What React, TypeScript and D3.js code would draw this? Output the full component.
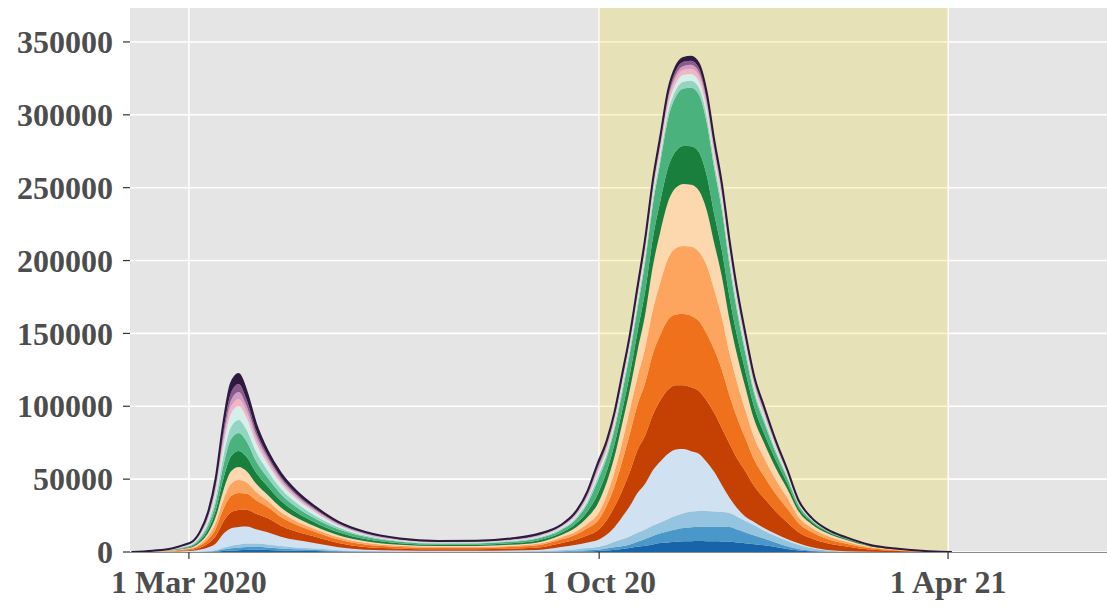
import React from "react";
import * as d3 from "d3";

const dates = [
  "2020-01-31","2020-02-11","2020-02-21","2020-02-27","2020-03-03","2020-03-07","2020-03-11","2020-03-15",
  "2020-03-19","2020-03-23","2020-03-27","2020-03-31","2020-04-05","2020-04-11","2020-04-18","2020-04-26",
  "2020-05-06","2020-05-18","2020-06-01","2020-06-19","2020-07-09","2020-07-29","2020-08-16","2020-08-30",
  "2020-09-11","2020-09-19","2020-09-25","2020-09-30","2020-10-05","2020-10-09","2020-10-13","2020-10-17",
  "2020-10-21","2020-10-25","2020-10-29","2020-11-02","2020-11-06","2020-11-10","2020-11-14","2020-11-18",
  "2020-11-22","2020-11-26","2020-11-30","2020-12-04","2020-12-08","2020-12-12","2020-12-16","2020-12-21",
  "2020-12-26","2021-01-01","2021-01-07","2021-01-13","2021-01-20","2021-01-28","2021-02-07","2021-02-19",
  "2021-03-06","2021-03-28","2021-04-03",
];

const sDarkBlue = [0,5,12,24,37,73,137,300,700,1050,1250,1450,1500,1390,1080,838,620,311,138,93,76,78,93,123,
  200,350,550,700,1100,1600,2100,2800,3600,4300,5200,6100,6600,7000,7300,7450,7500,7450,7350,7200,7000,6500,6000,5300,4600,3400,2100,1100,500,150,50,0,0,0,0];
const sMidBlue = [0,7,19,38,59,116,219,450,1000,1450,1700,1900,1900,1738,1350,1048,775,414,207,140,114,117,140,185,
  300,500,700,900,1300,1600,1900,2300,3500,4700,5800,6700,7700,8500,9100,9550,9800,9950,10050,10100,10100,9000,7600,6000,4600,3100,1900,1000,400,150,50,0,0,0,0];
const sLightBlue = [0,11,29,56,89,174,329,650,1300,1850,2150,2450,2350,2085,1620,1257,930,518,276,186,152,156,186,246,
  700,1050,1450,1900,2600,3800,4700,5600,6100,6500,7100,7500,8300,9300,10200,10800,10900,10700,10400,10100,9600,8700,7900,7000,5300,4500,3800,2900,1600,700,200,100,0,0,0];
const sPaleBlue = [0,81,216,423,666,1305,2466,4442,9446,11890,12100,11660,9826,8340,6480,5028,3720,2070,966,651,532,546,651,861,
  2300,3100,3800,4500,7000,10000,15300,20800,27300,31400,38000,42000,44900,45500,44000,41400,39300,33900,27200,18600,10600,5800,3000,2200,2000,1500,1200,1000,700,400,200,50,0,0,0];
const sDarkOrange = [0,90,240,470,740,1450,2740,5080,8446,11020,11600,11603,10736,9730,7560,5866,4340,2795,1794,1209,988,1014,1209,1599,
  2500,3500,5000,6500,10000,14000,18000,23500,29500,33000,38000,42000,44000,44200,43900,43800,43000,42000,40500,39000,37000,34000,31500,24500,20500,15500,11500,7600,6000,4600,3300,1550,700,50,0];
const sOrange = [0,90,240,470,740,1450,2740,5080,8534,11136,11700,11050,9240,7645,5940,4609,3410,2484,1794,1209,988,1014,1209,1599,
  2500,3500,5000,6500,10000,14000,20000,26000,31000,36000,42000,45000,48000,48500,48800,49000,48000,46000,43500,40000,33000,28000,23000,18000,15000,12000,9500,6200,4300,3000,1900,1000,400,40,0];
const sLightOrange = [0,72,192,376,592,1160,2192,4064,6490,8468,8900,7735,5720,4170,3240,2514,1860,1449,1104,744,608,624,744,984,
  1500,2000,3000,4500,7000,10000,13000,16500,19000,24000,30000,36000,42000,45500,46700,47500,47500,47000,41000,36000,29000,24000,19500,15000,12500,10000,7500,4300,3000,2000,1300,700,300,30,0];
const sPeach = [0,72,192,376,592,1160,2192,4064,6490,8468,8900,7735,5720,4170,3240,2514,1860,1449,1104,744,608,624,744,984,
  1500,3000,4500,7000,9000,10500,13000,14000,18000,23000,30000,35000,39000,41500,42600,42500,42000,38000,32000,28000,23000,19000,16000,12500,10500,8000,6000,3800,2400,1800,1200,600,300,30,0];
const sDarkGreen = [0,81,216,423,666,1305,2466,4572,8001,10440,11000,9724,7568,5908,4590,3562,2635,2070,1518,1023,836,858,1023,1353,
  1500,2500,4000,6500,7500,8500,9000,10500,13000,16000,19000,21000,23500,25000,26000,26500,26500,24000,20000,18000,15500,13000,11000,8500,6500,5500,4000,2400,1600,1100,800,500,250,25,0];
const sGreen = [0,90,240,470,740,1450,2740,5080,8979,11716,12400,10719,7920,5908,4590,3562,2635,2070,1518,1023,836,858,1023,1353,
  2000,3000,5500,9000,9500,10000,12000,14000,16000,20100,22900,26700,33500,37500,39400,40000,39500,36500,31500,27500,22000,16500,12500,9000,7500,5000,3500,1900,1000,600,400,200,100,10,0];
const sTeal = [0,68,180,353,555,1088,2055,3810,6490,8468,8900,7956,6248,4865,3780,2933,2170,1346,828,558,456,468,558,738,
  788,1238,1913,2700,2633,2700,2925,2925,3375,3600,3825,4050,4388,4613,4725,4793,4725,4613,4388,4163,3870,3488,3150,2700,2475,1913,1350,750,400,225,135,68,34,3,0];
const sPaleTeal = [0,72,192,376,592,1160,2192,4064,7023,9164,9600,8509,6424,4865,3780,2933,2170,1139,552,372,304,312,372,492,
  788,1238,1913,2700,2633,2700,2925,2925,3375,3600,3825,4050,4388,4613,4725,4793,4725,4613,4388,4163,3870,3488,3150,2700,2475,1913,1350,750,400,225,135,68,34,3,0];
const sPink = [0,36,96,188,296,580,1096,2032,3467,4524,4800,3978,2904,2085,1620,1257,930,621,414,279,228,234,279,369,
  578,908,1403,1980,1931,1980,2145,2145,2475,2640,2805,2970,3218,3383,3465,3515,3465,3383,3218,3053,2838,2558,2310,1980,1815,1403,990,550,290,165,99,50,25,3,0];
const sMauve = [0,36,96,188,296,580,1096,2032,3467,4524,4800,3978,2904,2085,1620,1257,930,621,414,279,228,234,279,369,
  445,699,1080,1524,1486,1524,1651,1651,1905,2032,2159,2286,2477,2604,2667,2705,2667,2604,2477,2350,2184,1969,1778,1524,1397,1080,762,420,220,127,76,38,19,2,0];
const sPurple = [0,41,108,212,333,653,1233,2286,4001,5220,5500,4310,2816,1738,1350,1048,775,518,345,233,190,195,233,308,
  459,721,1114,1572,1533,1572,1703,1703,1965,2096,2227,2358,2555,2686,2751,2790,2751,2686,2555,2424,2253,2031,1834,1572,1441,1114,786,430,230,131,79,39,20,2,0];
const sDarkPurple = [0,50,132,259,407,798,1507,2794,4978,6496,6900,5746,4224,2780,2160,1676,1240,828,828,558,456,468,558,738,
  444,696,1078,1524,1486,1524,1651,1651,1905,2032,2159,2286,2477,2604,2667,2705,2667,2604,2477,2350,2185,1966,1778,1524,1397,1077,762,420,220,127,76,37,18,2,0];

const seriesList = [sDarkBlue, sMidBlue, sLightBlue, sPaleBlue, sDarkOrange, sOrange, sLightOrange, sPeach,
  sDarkGreen, sGreen, sTeal, sPaleTeal, sPink, sMauve, sPurple, sDarkPurple];
const seriesColors = ["#1764ab","#4a98c9","#94c4df","#d0e1f2","#c44103","#f0711b","#fda45f","#fdd7ae",
  "#187f3c","#4ab27d","#93d4c2","#d5efea","#f3b5c6","#cf9cc4","#8c5a8e","#2d1b3f"];

const yTicks = [0, 50000, 100000, 150000, 200000, 250000, 300000, 350000];
const xTickDates = ["2020-03-01", "2020-10-01", "2021-04-01"];
const xTickLabels = ["1 Mar 2020", "1 Oct 20", "1 Apr 21"];
const highlight = ["2020-10-01", "2021-04-01"];

const W = 1107, H = 608;
const L = 130, R = 1107, T = 8, B = 552;

export default function App() {
  const parse = d3.timeParse("%Y-%m-%d");
  const x = d3.scaleTime()
    .domain([new Date(2020, 0, 30, 6, 30), new Date(2021, 5, 22, 22)])
    .range([L, R]);
  const y = d3.scaleLinear().domain([0, 373300]).range([B, T]);
  const keys = seriesList.map((_, i) => "k" + i);
  const rows = dates.map((d, i) => {
    const r: any = { date: parse(d) };
    seriesList.forEach((s, k) => (r["k" + k] = s[i]));
    return r;
  });
  const stacked = d3.stack().keys(keys)(rows);
  const area = d3.area<any>()
    .x((d) => x(d.data.date))
    .y0((d) => y(d[0]))
    .y1((d) => y(d[1]))
    .curve(d3.curveMonotoneX);
  const topLine = d3.line<any>()
    .x((d) => x(d.data.date))
    .y((d) => y(d[1]))
    .curve(d3.curveMonotoneX);
  const font = "'Liberation Serif', 'Times New Roman', serif";
  const hx0 = x(parse(highlight[0])!);
  const hx1 = x(parse(highlight[1])!);
  return (
    <svg width={W} height={H} style={{ position: "absolute", left: 0, top: 0 }}>
      <defs>
        <clipPath id="panel"><rect x={L} y={T} width={R - L} height={B - T} /></clipPath>
      </defs>
      <rect x={0} y={0} width={W} height={H} fill="#ffffff" />
      <rect x={L} y={T} width={R - L} height={B - T} fill="#e5e5e5" />
      {yTicks.map((t) => (
        <line key={"gy" + t} x1={L} x2={R} y1={y(t)} y2={y(t)} stroke="#ffffff" strokeWidth={1.6} />
      ))}
      {xTickDates.map((t) => (
        <line key={"gx" + t} x1={x(parse(t)!)} x2={x(parse(t)!)} y1={T} y2={B} stroke="#ffffff" strokeWidth={1.6} />
      ))}
      <rect x={hx0} y={T} width={hx1 - hx0} height={B - T} fill="#f2d200" fillOpacity={0.2} />
      <g clipPath="url(#panel)">
        {stacked.map((s, i) => (
          <path key={"a" + i} d={area(s as any) || ""} fill={seriesColors[i]} />
        ))}
        <path d={topLine(stacked[stacked.length - 1] as any) || ""} fill="none" stroke="#2d1b3f" strokeWidth={2} />
      </g>
      <line x1={L} x2={R} y1={B + 0.5} y2={B + 0.5} stroke="#8a8a8a" strokeWidth={1} />
      {yTicks.map((t) => (
        <g key={"ty" + t}>
          <line x1={L - 7} x2={L} y1={y(t)} y2={y(t)} stroke="#333333" strokeWidth={1.2} />
          <text x={L - 17} y={y(t)} dy="0.35em" textAnchor="end" fontFamily={font} fontWeight="bold" fontSize={32} fill="#4d4d4d">
            {String(t)}
          </text>
        </g>
      ))}
      {xTickDates.map((t, i) => (
        <g key={"tx" + t}>
          <line x1={x(parse(t)!)} x2={x(parse(t)!)} y1={B} y2={B + 7} stroke="#333333" strokeWidth={1.2} />
          <text x={x(parse(t)!)} y={B + 41} textAnchor="middle" fontFamily={font} fontWeight="bold" fontSize={32} fill="#4d4d4d">
            {xTickLabels[i]}
          </text>
        </g>
      ))}
    </svg>
  );
}
